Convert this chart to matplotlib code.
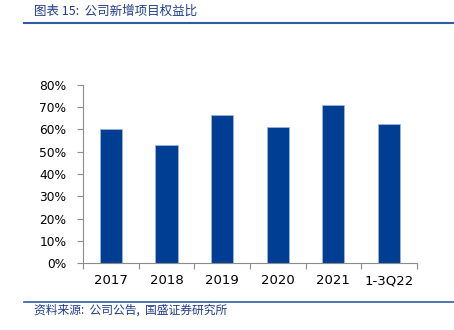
import matplotlib.pyplot as plt
from matplotlib.lines import Line2D
from matplotlib.ticker import FuncFormatter, MultipleLocator

plt.rcParams['font.family'] = ['DejaVu Sans', 'Noto Sans CJK SC']

categorie = ['2017', '2018', '2019', '2020', '2021', '1-3Q22']
valori = [60.0, 53.2, 66.5, 61.0, 71.0, 62.4]

fig = plt.figure(figsize=(4.54, 3.30), dpi=100)
ax = fig.add_axes([0.183, 0.202, 0.735, 0.541])

x = range(len(categorie))
ax.bar(x, valori, width=0.4, color='#003E94', edgecolor='#9DB4DC', linewidth=0.6)

ax.set_xlim(-0.5, len(categorie) - 0.5)
ax.set_ylim(0, 80)
ax.yaxis.set_major_locator(MultipleLocator(10))
ax.yaxis.set_major_formatter(FuncFormatter(lambda v, p: f'{v:.0f}%'))

# tick dell'asse x tra le categorie
ax.set_xticks([i - 0.5 for i in range(len(categorie) + 1)])
ax.set_xticklabels([])
ax.set_xticks(list(x), minor=True)
ax.set_xticklabels(categorie, minor=True)
ax.tick_params(axis='x', which='minor', length=0, pad=8, labelsize=9.5, colors='#000000')
ax.tick_params(axis='x', which='major', length=4, color='#8C8C8C', width=0.8)
ax.tick_params(axis='y', length=4, color='#8C8C8C', width=0.8, labelsize=8.8, pad=8)

for s in ['top', 'right']:
    ax.spines[s].set_visible(False)
for s in ['left', 'bottom']:
    ax.spines[s].set_color('#8C8C8C')
    ax.spines[s].set_linewidth(0.8)

# titolo e fonte
cjk = ['Noto Sans CJK SC', 'DejaVu Sans']
fig.text(0.075, 0.965, '图表 15:  公司新增项目权益比', family=cjk, fontsize=9,
         color='#1F3C88', va='center', ha='left', style='italic')
fig.add_artist(Line2D([0.053, 1.0], [0.930, 0.930], color='#2D5BA6', linewidth=1.5))
fig.add_artist(Line2D([0.053, 1.0], [0.085, 0.085], color='#2D5BA6', linewidth=1.2))
fig.text(0.075, 0.060, '资料来源:  公司公告,  国盛证券研究所', family=cjk, fontsize=8.5,
         color='#1F3C88', va='center', ha='left', style='italic')

fig.savefig('out.png', dpi=100)
